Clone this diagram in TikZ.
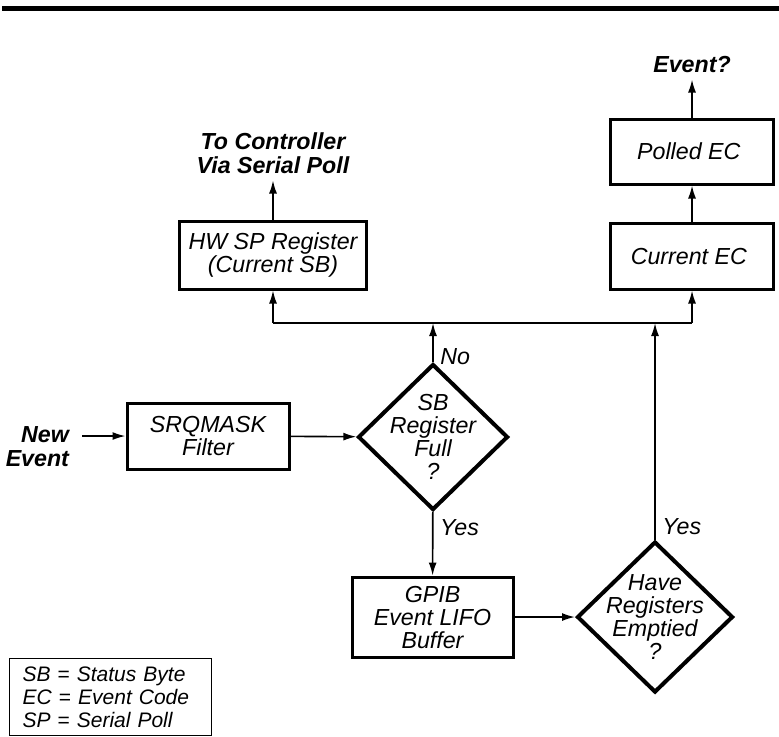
\documentclass[tikz,border=0pt]{standalone}
\usepackage{fontspec}
\setmainfont{Liberation Sans}
\usepackage{tikz}
\usetikzlibrary{
arrows.meta,
positioning,
shapes.geometric
}

\begin{document}
\begin{tikzpicture}[
x=0.5pt,y=-0.5pt,
node distance=1cm,
box/.style={
draw,
line width=1.5pt,
minimum width=81pt,
minimum height=33pt,
align=center,
font=\fontsize{11.6}{11.5}\selectfont\itshape
},
decision/.style={
draw,
diamond,
line width=2pt,
inner sep=-7pt,
align=center,
font=\fontsize{11.6}{11.5}\selectfont\itshape
},
lbl/.style={
align=center,
font=\fontsize{11.6}{11.5}\selectfont\itshape
},
title/.style={
align=center,
font=\fontsize{11.6}{12}\selectfont\bfseries\itshape
},
arrow/.style={-{Latex[length=6.5pt,width=4pt]},line width=0.8pt},
line/.style={line width=0.8pt}
]

\useasboundingbox (0,0) rectangle (779,736);

\draw[line width=2.5pt] (2,8) -- (779,8);

\node[box,minimum width=93.5pt,minimum height=34pt] (hwsp) at (273,255) {
HW SP Register\\
(Current SB)
};

\node[title,above=19.5pt of hwsp] (tocont) {
To Controller\\
Via Serial Poll
};

\node[box,minimum width=81.5pt] (current) at (692,256) {
Current EC
};

\node[box,minimum width=81.5pt,minimum height=32.5pt,above=18pt of current] (polled) {
Polled EC
};

\node[title,above=19pt of polled] (evq) {Event?};

\node[box] (srqmask) at (208,436) {
SRQMASK\\
Filter
};

\node[title,align=right,anchor=east] (newev) at (76,447) {
New\\
Event
};

\node[decision,minimum width=75pt,minimum height=73pt] (sbfull) at (433,437) {
SB\\
Register\\
Full\\
?
};

\node[box,minimum width=80.5pt,minimum height=40pt] (gpib) at (432.5,617) {
GPIB\\
Event LIFO\\
Buffer
};

\node[decision,minimum width=78pt,minimum height=75.5pt] (have) at (655,617) {
Have\\
Registers\\
Emptied\\
?
};

\node[draw,line width=0.6pt,anchor=north west,align=left,
text width=88pt,inner xsep=6.5pt,minimum height=38.5pt,
font=\fontsize{10.5}{11.5}\selectfont\itshape] (legend) at (9,658) {
SB\ \textup{=}\ Status Byte\\
EC\ \textup{=}\ Event Code\\
SP\ \textup{=}\ Serial Poll
};

\coordinate (bus) at (0,323);

\draw[arrow] ([xshift=3pt]newev.east |- srqmask.west) -- (srqmask.west);
\draw[arrow] (srqmask) -- (sbfull);
\draw[arrow] (sbfull) -- node[lbl,right,pos=0.25] {Yes} (gpib);
\draw[arrow] (gpib) -- (have);

\draw[arrow] (sbfull.north) -- node[lbl,right,pos=0.15] {No} (sbfull.north |- bus);
\draw[arrow] (have.north) -- node[lbl,right,pos=0.06] {Yes} (have.north |- bus);

\draw[line] (hwsp.south |- bus) -- (current.south |- bus);
\draw[arrow] (hwsp.south |- bus) -- (hwsp.south);
\draw[arrow] (current.south |- bus) -- (current.south);

\draw[arrow] (hwsp) -- (tocont);
\draw[arrow] (current) -- (polled);
\draw[arrow] (polled) -- (evq);

\end{tikzpicture}
\end{document}
